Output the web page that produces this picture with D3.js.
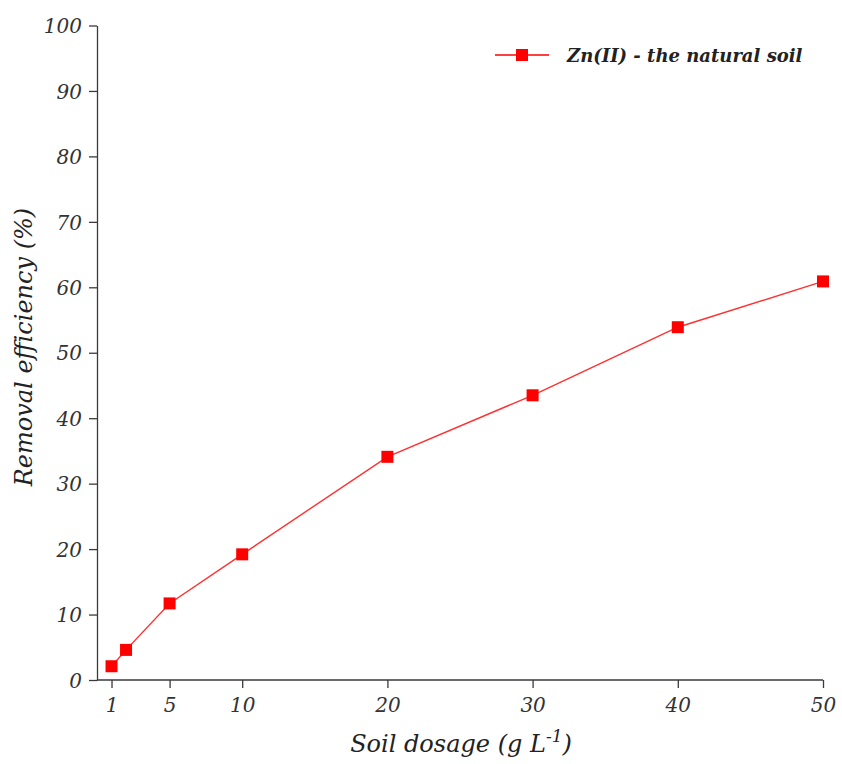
<!DOCTYPE html>
<html>
<head>
<meta charset="utf-8">
<script src="https://cdn.jsdelivr.net/npm/d3@7/dist/d3.min.js"></script>
<style>
  html, body { margin: 0; padding: 0; background: #fff; }
  svg { display: block; }
  .axis path, .axis line { stroke: #3a3a3a; stroke-width: 1.3; }
  .axis text { font-family: "DejaVu Serif", serif; font-style: italic; font-size: 20px; fill: #333; }
  .title { font-family: "DejaVu Serif", serif; font-style: italic; fill: #222; }
</style>
</head>
<body>
<script>
// Zn(II) removal by the natural soil at increasing soil dosage
const dosage = [1, 2, 5, 10, 20, 30, 40, 50];
const removal = [2.1, 4.6, 11.7, 19.2, 34.1, 43.5, 53.9, 60.9];
const xTicks = [1, 5, 10, 20, 30, 40, 50];
const yTicks = [0, 10, 20, 30, 40, 50, 60, 70, 80, 90, 100];
const seriesName = "Zn(II) - the natural soil";

const W = 842, H = 764;
const svg = d3.select("body").append("svg").attr("width", W).attr("height", H);

const x = d3.scaleLinear().domain([0, 50]).range([97, 823]);
const y = d3.scaleLinear().domain([0, 100]).range([680, 25.5]);

// axes
svg.append("g").attr("class", "axis")
  .attr("transform", `translate(0,${y(0)})`)
  .call(d3.axisBottom(x).tickValues(xTicks).tickSize(8).tickSizeOuter(0).tickPadding(10))
  .call(g => g.select(".domain").attr("d", `M${x(0)},0H${x(50)}`));

svg.append("g").attr("class", "axis")
  .attr("transform", `translate(${x(0)},0)`)
  .call(d3.axisLeft(y).tickValues(yTicks).tickSize(8).tickSizeOuter(0).tickPadding(7))
  .call(g => g.selectAll(".tick text").attr("dy", "0.36em"));

// line and markers
const line = d3.line().x((d, i) => x(dosage[i])).y(d => y(d));
svg.append("path").datum(removal)
  .attr("d", line)
  .attr("fill", "none")
  .attr("stroke", "#ff3030")
  .attr("stroke-width", 1.4);

const m = 12;
svg.selectAll("rect.pt").data(removal).join("rect")
  .attr("class", "pt")
  .attr("x", (d, i) => x(dosage[i]) - m / 2)
  .attr("y", d => y(d) - m / 2)
  .attr("width", m).attr("height", m)
  .attr("fill", "#ff0000");

// axis titles
const xt = svg.append("text").attr("class", "title")
  .attr("x", (x(0) + x(50)) / 2 + 1).attr("y", 752)
  .attr("font-size", 24)
  .attr("text-anchor", "middle");
xt.append("tspan").text("Soil dosage (g L");
xt.append("tspan").attr("dy", -10).attr("font-size", 17).text("-1");
xt.append("tspan").attr("dy", 10).text(")");

svg.append("text").attr("class", "title")
  .attr("transform", `translate(32,347) rotate(-90)`)
  .attr("font-size", 24)
  .attr("text-anchor", "middle")
  .text("Removal efficiency (%)");

// legend
const lg = svg.append("g");
lg.append("line").attr("x1", 495).attr("x2", 549).attr("y1", 55).attr("y2", 55)
  .attr("stroke", "#ff0000").attr("stroke-width", 1.4);
lg.append("rect").attr("x", 522 - 6).attr("y", 55 - 6).attr("width", 12).attr("height", 12).attr("fill", "#ff0000");
lg.append("text").attr("class", "title")
  .attr("x", 567).attr("y", 62)
  .attr("font-size", 18)
  .attr("font-weight", "bold")
  .text(seriesName);
</script>
</body>
</html>
